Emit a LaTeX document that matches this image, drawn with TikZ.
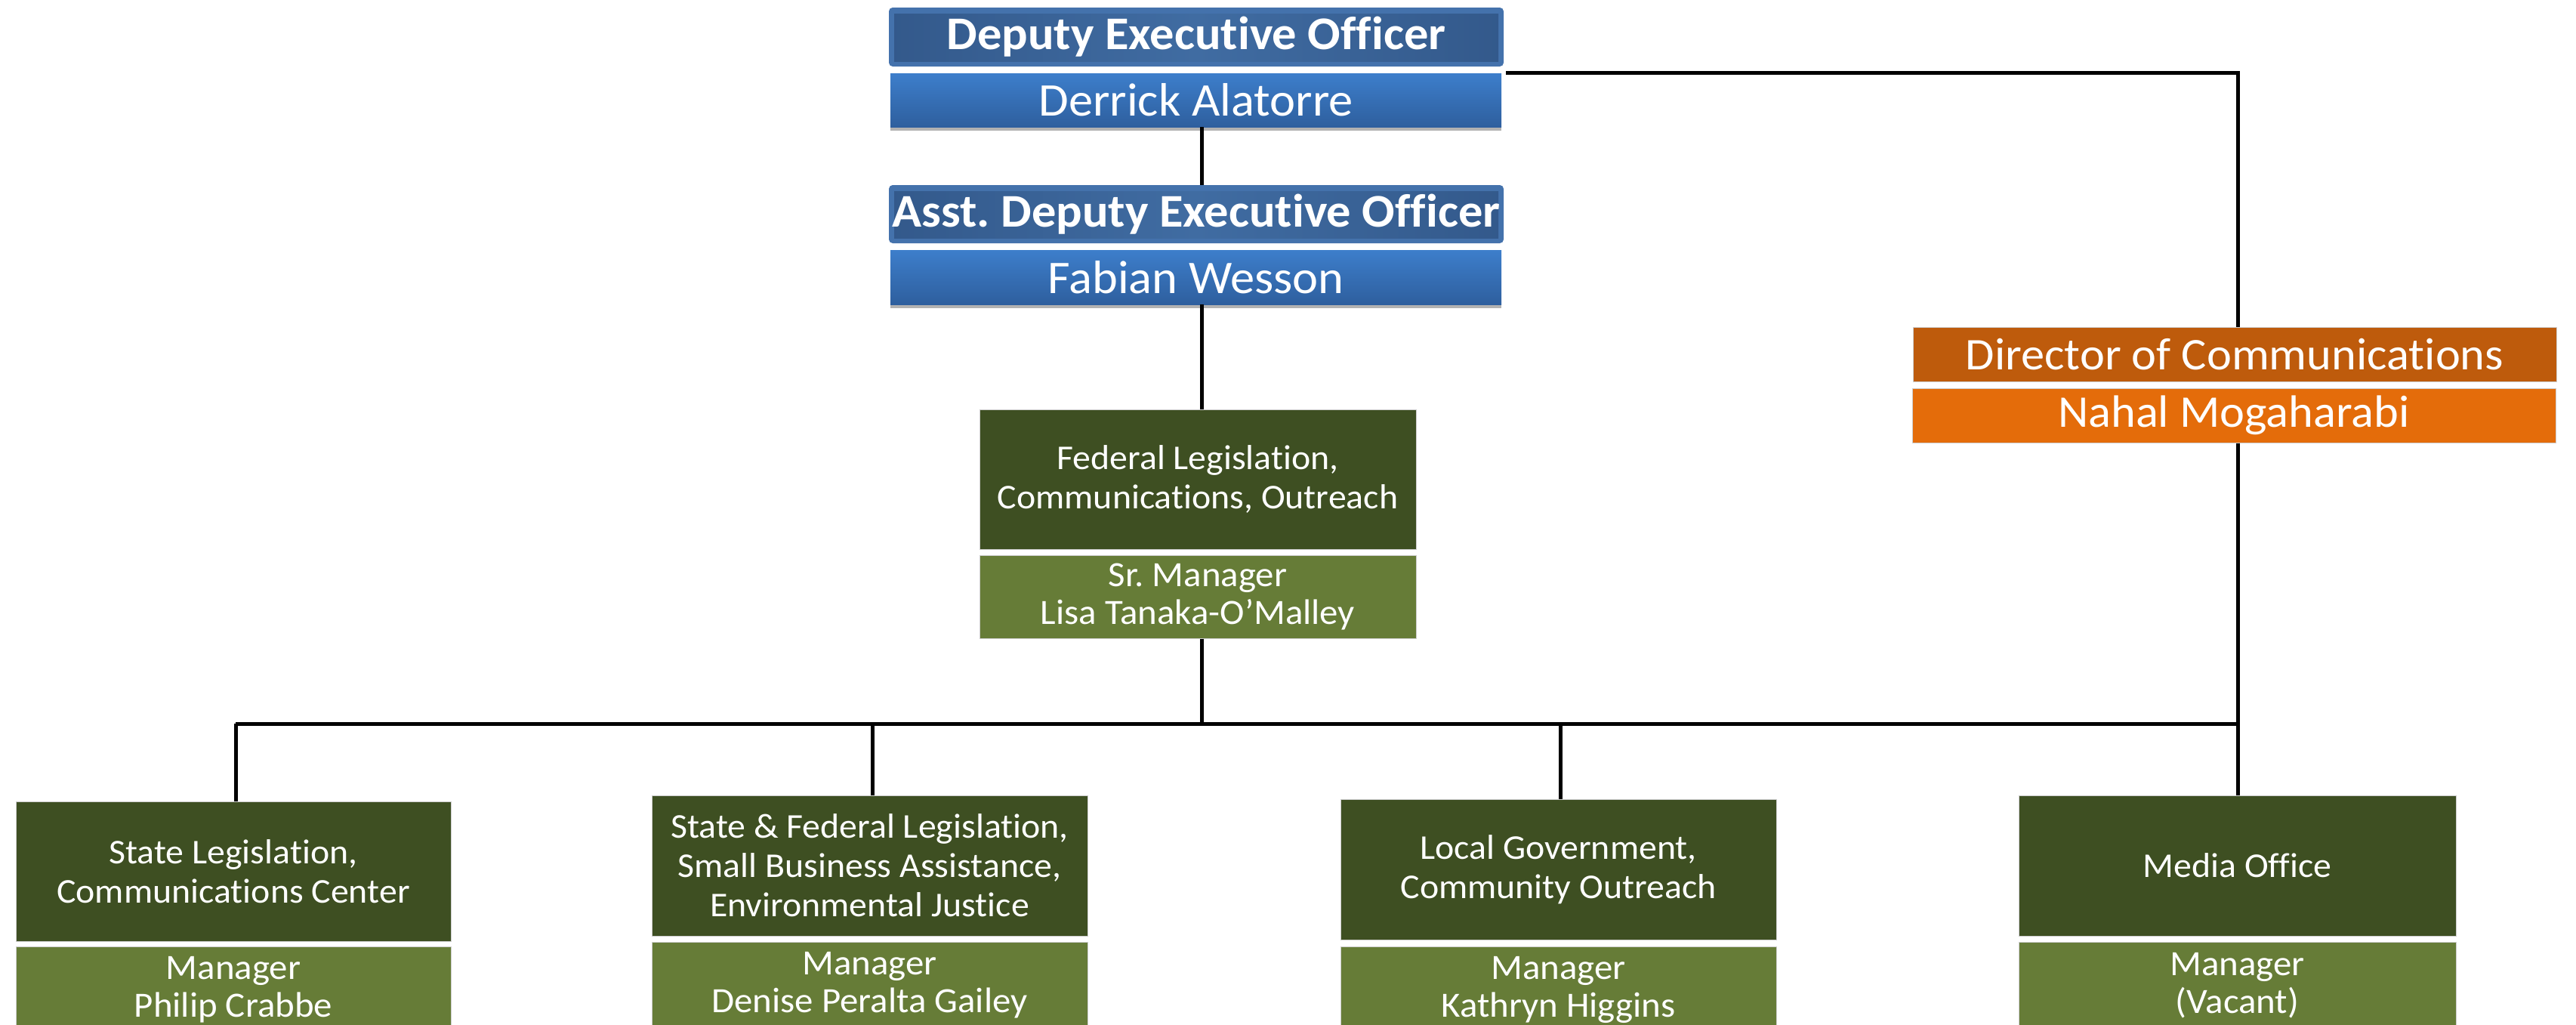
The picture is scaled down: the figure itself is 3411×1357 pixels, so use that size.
\documentclass[tikz,border=0pt]{standalone}
\usepackage{fontspec}
\setmainfont[Ligatures={NoCommon},FakeStretch=1.04]{Carlito}
\usetikzlibrary{shadows}
\definecolor{titleout}{RGB}{68,114,172}
\definecolor{titlein}{RGB}{51,89,139}
\definecolor{titlemid}{RGB}{64,108,162}
\definecolor{nametop}{RGB}{61,126,203}
\definecolor{namebot}{RGB}{46,95,158}
\definecolor{dirorange}{RGB}{190,91,12}
\definecolor{nameorange}{RGB}{228,108,10}
\definecolor{dkgreen}{RGB}{62,79,34}
\definecolor{ltgreen}{RGB}{102,124,55}
\definecolor{edgegray}{RGB}{205,205,205}
\begin{document}
\frenchspacing
\begin{tikzpicture}[x=1pt,y=-1pt,
  box/.style={inner sep=0pt, text=white, align=center},
  titlebox/.style={box, rounded corners=5pt, fill=titleout,
    font=\fontsize{62}{70}\selectfont\bfseries,
    path picture={\shade[sharp corners, left color=titlein, right color=titlein, middle color=titlemid]
      ([xshift=7pt,yshift=-8pt]path picture bounding box.north west) rectangle
      ([xshift=-7pt,yshift=7pt]path picture bounding box.south east);}},
  namebox/.style={box, top color=nametop, bottom color=namebot,
    font=\fontsize{62}{70}\selectfont,
    drop shadow={shadow xshift=0pt, shadow yshift=-5pt, opacity=0.3, fill=black}},
  dirbox/.style={box, draw=edgegray, line width=1pt, font=\fontsize{60}{70}\selectfont},
  unitbox/.style={box, fill=dkgreen, draw=edgegray, line width=1pt, font=\fontsize{46}{52}\selectfont},
  mgrbox/.style={box, fill=ltgreen, draw=edgegray, line width=1pt, font=\fontsize{47}{50}\selectfont},
  link/.style={line width=5pt, black}]
\useasboundingbox (0,0) rectangle (3411,1357);
\clip (0,0) rectangle (3411,1357);

% top chain
\node[titlebox, minimum width=814pt, minimum height=78pt] (dep) at (1584,49) {Deputy Executive Officer};
\node[namebox, minimum width=809pt, minimum height=71pt] (derrick) at (1583.5,132.5) {Derrick Alatorre};
\node[titlebox, minimum width=814pt, minimum height=77pt] (asst) at (1584,283.5) {Asst. Deputy Executive Officer};
\node[namebox, minimum width=809pt, minimum height=72pt] (fabian) at (1583.5,367) {Fabian Wesson};

% communications director
\node[dirbox, fill=dirorange, minimum width=852pt, minimum height=72pt] (director) at (2959,469) {Director of Communications};
\node[dirbox, fill=nameorange, minimum width=852pt, minimum height=72pt] (nahal) at (2958,550) {Nahal Mogaharabi};

% federal
\node[unitbox, minimum width=578pt, minimum height=185pt] (federal) at (1586,634.5) {Federal Legislation,\\Communications, Outreach};
\node[mgrbox, minimum width=578pt, minimum height=110pt] (srmgr) at (1586,790) {Sr. Manager\\Lisa Tanaka-O’Malley};

% bottom row
\node[unitbox, minimum width=576pt, minimum height=185pt] (state) at (309,1153.5) {State Legislation,\\Communications Center};
\node[mgrbox, minimum width=576pt, minimum height=115pt] (m1) at (309,1310.5) {Manager\\Philip Crabbe};

\node[unitbox, minimum width=577pt, minimum height=186pt] (sfl) at (1151.5,1146) {State \& Federal Legislation,\\Small Business Assistance,\\Environmental Justice};
\node[mgrbox, minimum width=577pt, minimum height=115pt] (m2) at (1151.5,1304.5) {Manager\\Denise Peralta Gailey};

\node[unitbox, minimum width=577pt, minimum height=186pt] (local) at (2063.5,1151) {Local Government,\\Community Outreach};
\node[mgrbox, minimum width=577pt, minimum height=115pt] (m3) at (2063.5,1310.5) {Manager\\Kathryn Higgins};

\node[unitbox, minimum width=579pt, minimum height=186pt] (media) at (2962.5,1146) {Media Office};
\node[mgrbox, minimum width=579pt, minimum height=115pt] (m4) at (2962.5,1304.5) {Manager\\(Vacant)};

% connector coordinates
\coordinate (cx) at (1591,0);
\coordinate (rx) at (2963,0);
\coordinate (topline) at (2963,96);
\coordinate (busL) at (312,958);
\coordinate (busR) at (2964,958);
\coordinate (b2) at (1155,958);
\coordinate (b3) at (2066,958);

% connectors
\draw[link] (derrick.south -| cx) -- (asst.north -| cx);
\draw[link] (fabian.south -| cx) -- (federal.north -| cx);
\draw[link] (srmgr.south -| cx) -- (cx |- busL);
\draw[link] (busL) -- (busR);
\draw[link] (busL) -- (state.north -| busL);
\draw[link] (b2) -- (sfl.north -| b2);
\draw[link] (b3) -- (local.north -| b3);
\draw[link] ([xshift=6pt]derrick.east |- topline) -- (topline) -- (director.north -| topline);
\draw[link] (nahal.south -| rx) -- (media.north -| rx);
\end{tikzpicture}
\end{document}
